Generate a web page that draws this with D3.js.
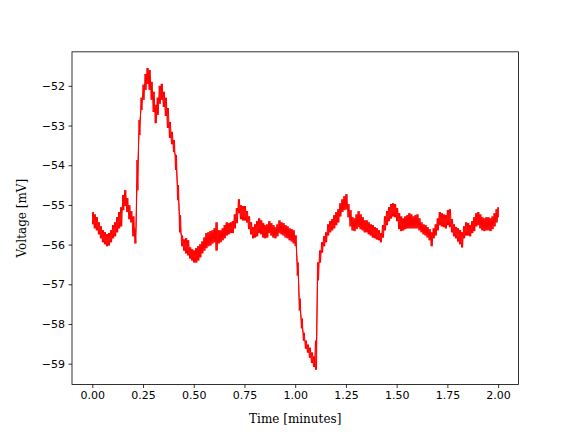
<!DOCTYPE html>
<html>
<head>
<meta charset="utf-8">
<script src="https://cdn.jsdelivr.net/npm/d3@7/dist/d3.min.js"></script>
<style>
  html, body { margin: 0; padding: 0; background: #fff; }
  svg { display: block; }
  .tick text { font-family: "DejaVu Sans", sans-serif; font-size: 11px; fill: #000; }
  .axlabel { font-family: "DejaVu Serif", serif; font-size: 12px; fill: #000; }
</style>
</head>
<body>
<svg id="chart" width="576" height="432"></svg>
<script>
// Sampling times (minutes), one sample every 0.01 min
const timeMinutes = d3.range(0, 201).map(i => i / 100);

// Upper edge of the noisy voltage trace (mV)
const voltageHigh = [
-55.18,-55.24,-55.31,-55.44,-55.54,-55.64,-55.69,-55.74,-55.71,-55.64,
-55.51,-55.44,-55.31,-55.18,-55.06,-54.75,-54.63,-54.83,-55.01,-55.16,
-55.29,-55.59,-53.87,-52.86,-52.30,-51.97,-51.70,-51.55,-51.60,-51.90,
-52.15,-52.48,-52.30,-52.00,-51.95,-52.15,-52.30,-52.56,-52.91,-53.16,
-53.37,-53.74,-54.50,-55.26,-55.77,-55.87,-55.84,-55.89,-56.07,-56.12,
-56.15,-56.09,-56.04,-55.99,-55.92,-55.82,-55.71,-55.69,-55.66,-55.64,
-55.59,-55.44,-55.64,-55.64,-55.59,-55.51,-55.44,-55.46,-55.44,-55.41,
-55.24,-55.08,-54.86,-55.01,-55.03,-55.03,-55.16,-55.29,-55.44,-55.56,
-55.49,-55.41,-55.34,-55.39,-55.46,-55.51,-55.49,-55.41,-55.46,-55.51,
-55.56,-55.49,-55.39,-55.44,-55.46,-55.51,-55.54,-55.59,-55.61,-55.64,
-55.77,-56.45,-57.36,-57.86,-58.22,-58.42,-58.52,-58.60,-58.72,-58.82,
-58.42,-56.45,-56.15,-55.94,-55.79,-55.69,-55.49,-55.41,-55.36,-55.26,
-55.18,-55.11,-54.96,-54.86,-54.78,-54.73,-54.98,-55.13,-55.31,-55.34,
-55.24,-55.16,-55.24,-55.31,-55.39,-55.39,-55.44,-55.49,-55.51,-55.56,
-55.59,-55.64,-55.71,-55.51,-55.29,-55.16,-55.06,-54.98,-54.96,-54.98,
-55.08,-55.21,-55.29,-55.34,-55.29,-55.26,-55.21,-55.24,-55.29,-55.26,
-55.24,-55.34,-55.44,-55.49,-55.51,-55.56,-55.61,-55.69,-55.59,-55.49,
-55.34,-55.18,-55.21,-55.24,-55.26,-55.13,-55.11,-55.36,-55.49,-55.56,
-55.59,-55.64,-55.69,-55.54,-55.44,-55.46,-55.51,-55.41,-55.31,-55.21,
-55.18,-55.24,-55.31,-55.34,-55.31,-55.31,-55.34,-55.29,-55.21,-55.11,
-55.06
];

// Lower edge of the noisy voltage trace (mV)
const voltageLow = [
-55.49,-55.59,-55.64,-55.74,-55.84,-55.94,-55.99,-56.04,-56.02,-55.94,
-55.84,-55.79,-55.69,-55.59,-55.54,-55.13,-55.03,-55.18,-55.36,-55.44,
-55.79,-55.97,-54.63,-53.24,-52.61,-52.35,-52.10,-51.95,-52.10,-52.35,
-52.66,-52.94,-52.73,-52.45,-52.35,-52.53,-52.76,-53.06,-53.31,-53.47,
-53.67,-54.12,-54.88,-55.69,-56.04,-56.15,-56.22,-56.27,-56.35,-56.40,
-56.45,-56.45,-56.40,-56.32,-56.22,-56.15,-56.09,-56.04,-56.02,-55.97,
-55.94,-56.15,-55.97,-55.94,-55.89,-55.84,-55.77,-55.74,-55.71,-55.71,
-55.59,-55.46,-55.21,-55.36,-55.39,-55.39,-55.44,-55.61,-55.74,-55.84,
-55.82,-55.79,-55.71,-55.74,-55.82,-55.84,-55.82,-55.71,-55.77,-55.82,
-55.84,-55.79,-55.71,-55.74,-55.77,-55.82,-55.84,-55.89,-55.92,-55.97,
-56.04,-56.78,-57.66,-58.11,-58.42,-58.62,-58.72,-58.85,-58.98,-59.08,
-59.15,-56.90,-56.45,-56.20,-56.04,-55.94,-55.77,-55.69,-55.64,-55.59,
-55.51,-55.44,-55.29,-55.18,-55.13,-55.11,-55.31,-55.54,-55.64,-55.66,
-55.61,-55.56,-55.61,-55.64,-55.69,-55.69,-55.74,-55.77,-55.82,-55.84,
-55.87,-55.89,-55.94,-55.82,-55.64,-55.51,-55.41,-55.34,-55.29,-55.31,
-55.41,-55.61,-55.66,-55.64,-55.61,-55.59,-55.59,-55.59,-55.59,-55.59,
-55.59,-55.64,-55.69,-55.74,-55.77,-55.82,-55.89,-56.04,-55.84,-55.77,
-55.64,-55.51,-55.54,-55.56,-55.59,-55.51,-55.56,-55.69,-55.79,-55.84,
-55.92,-55.99,-56.07,-55.84,-55.77,-55.77,-55.79,-55.71,-55.66,-55.54,
-55.51,-55.59,-55.64,-55.66,-55.64,-55.64,-55.66,-55.61,-55.54,-55.44,
-55.31
];

const xTicks = [0.00, 0.25, 0.50, 0.75, 1.00, 1.25, 1.50, 1.75, 2.00];
const yTicks = [-59, -58, -57, -56, -55, -54, -53, -52];
const xLabel = "Time [minutes]";
const yLabel = "Voltage [mV]";

// Two interleaved zigzags between the upper and lower edges fill the dense noise band
const traceA = [], traceB = [];
timeMinutes.forEach((t, i) => {
  const half = i < timeMinutes.length - 1 ? 0.005 : 0;
  traceA.push([t, voltageHigh[i]], [t + half, voltageLow[i]]);
  traceB.push([t, voltageLow[i]], [t + half, voltageHigh[i]]);
});

const m = { left: 72, right: 518.4, top: 51.84, bottom: 384.5 };

const svg = d3.select("#chart");

const x = d3.scaleLinear().domain([-0.1, 2.1]).range([m.left, m.right]);
const y = d3.scaleLinear().domain([-59.525, -51.143]).range([m.bottom, m.top]);

const fmt = d => d.toFixed(2);
const yfmt = d => (d < 0 ? "\u2212" + Math.abs(d) : String(d));

const xAxis = svg.append("g")
  .attr("transform", `translate(0,${m.bottom})`)
  .call(d3.axisBottom(x).tickValues(xTicks).tickFormat(fmt).tickSize(3.5).tickPadding(3.5));
const yAxis = svg.append("g")
  .attr("transform", `translate(${m.left},0)`)
  .call(d3.axisLeft(y).tickValues(yTicks).tickFormat(yfmt).tickSize(3.5).tickPadding(3.5));

[xAxis, yAxis].forEach(g => {
  g.select(".domain").remove();
  g.selectAll(".tick line").attr("stroke", "#000").attr("stroke-width", 0.8);
});

const line = d3.line().x(d => x(d[0])).y(d => y(d[1]));
[traceA, traceB].forEach(tr => {
  svg.append("path")
    .datum(tr)
    .attr("fill", "none")
    .attr("stroke", "#ff0000")
    .attr("stroke-width", 1)
    .attr("stroke-linejoin", "round")
    .attr("d", line);
});

// Spines
svg.append("rect")
  .attr("x", m.left).attr("y", m.top)
  .attr("width", m.right - m.left).attr("height", m.bottom - m.top)
  .attr("fill", "none").attr("stroke", "#000").attr("stroke-width", 0.8);

// Axis labels
svg.append("text").attr("class", "axlabel")
  .attr("x", (m.left + m.right) / 2).attr("y", 423)
  .attr("text-anchor", "middle").text(xLabel);

svg.append("text").attr("class", "axlabel")
  .attr("transform", `translate(26,${(m.top + m.bottom) / 2}) rotate(-90)`)
  .attr("text-anchor", "middle").text(yLabel);
</script>
</body>
</html>
